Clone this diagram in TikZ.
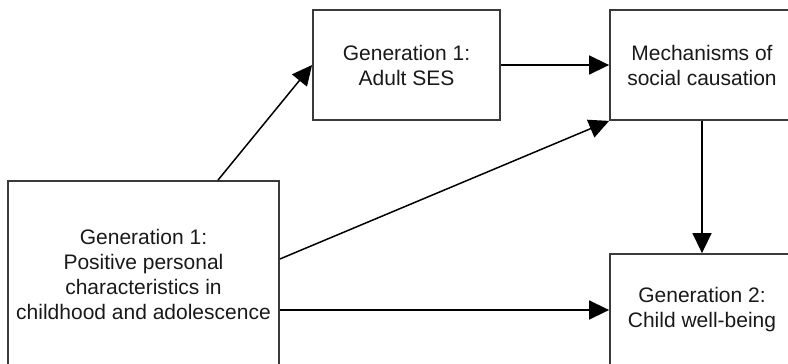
\documentclass[tikz,border=0pt]{standalone}
\usepackage{fontspec}
\setmainfont{Liberation Sans}
\usepackage{tikz}
\usetikzlibrary{arrows.meta}
\tikzset{>={Triangle[width=19pt,length=20pt]}}
\definecolor{boxline}{HTML}{3A3A3A}
\tikzset{box/.style={draw=boxline, line width=1.8pt, align=center, inner sep=0pt,
  font=\fontsize{21}{25}\selectfont, text=black!90}}

\begin{document}
\begin{tikzpicture}[x=1pt, y=1pt]
  \useasboundingbox (0,0) rectangle (788,-364);
  \node[box, minimum width=271pt, minimum height=186pt] (POS) at (143.5,-274) {Generation 1:\\Positive personal\\characteristics in\\childhood and adolescence};
  \node[box, minimum width=187pt, minimum height=110pt] (SES) at (406.5,-65) {Generation 1:\\Adult SES};
  \node[box, minimum width=184pt, minimum height=110pt] (MECH) at (702,-65) {Mechanisms of\\social causation};
  \node[box, minimum width=184pt, minimum height=112pt] (CHILD) at (702,-310) {Generation 2:\\Child well-being};

  \draw[->, line width=1.5pt] ([xshift=74.5pt]POS.north) -- (SES.west);
  \draw[->, line width=1.5pt] (SES.east) -- (MECH.west);
  \draw[->, line width=1.5pt] ([yshift=15pt]POS.east) -- (MECH.south west);
  \draw[->, line width=1.5pt] (POS.east |- CHILD.west) -- (CHILD.west);
  \draw[->, line width=1.5pt] (MECH.south) -- (CHILD.north);
\end{tikzpicture}
\end{document}
